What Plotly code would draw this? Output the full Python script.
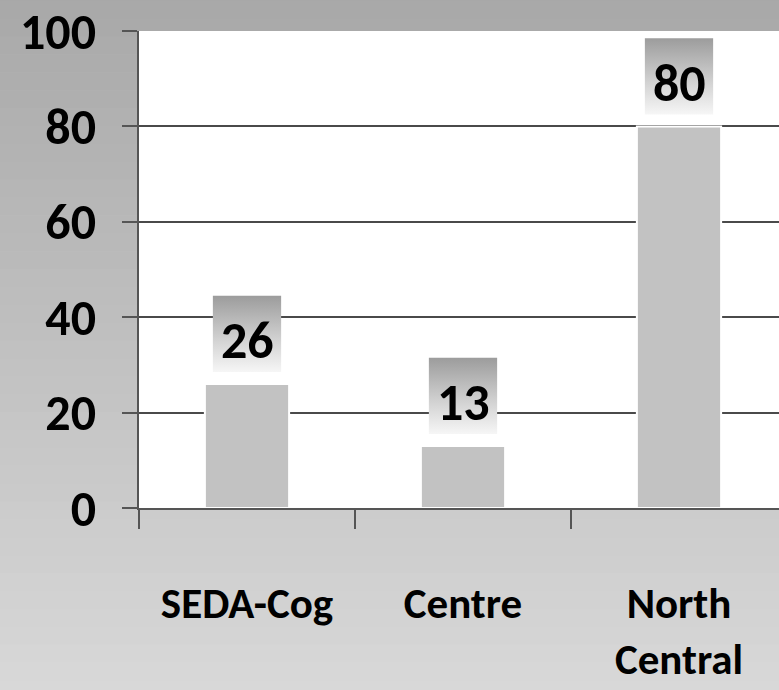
import plotly.graph_objects as go

categories = ["SEDA-Cog", "Centre", "North Central"]
tick_labels = ["SEDA-Cog", "Centre", "North<br>Central"]
values = [26, 13, 80]
y_ticks = [0, 20, 40, 60, 80, 100]

FONT = "Calibri, Carlito, Roboto, sans-serif"

pos = list(range(len(categories)))
boundaries = [p - 0.5 for p in pos]
x_range = [-0.5, -0.5 + 640 / 216]

fig = go.Figure()

# background vertical gradient (decoration) via paper-referenced strips
n = 40
top_c, bot_c = 168, 216
shapes = []
for i in range(n):
    g = int(round(top_c + (bot_c - top_c) * i / (n - 1)))
    shapes.append(dict(type="rect", xref="paper", yref="paper", layer="below",
                       x0=-0.3, x1=1.3, y0=1.1 - (i + 1) * 1.5 / n, y1=1.1 - i * 1.5 / n + 0.001,
                       fillcolor=f"rgb({g},{g},{g})", line=dict(width=0)))
# white plot area
shapes.append(dict(type="rect", xref="x domain", yref="y domain", layer="below",
                   x0=0, x1=1, y0=0, y1=1, fillcolor="white", line=dict(width=0)))

fig.add_trace(go.Bar(
    x=pos, y=values, width=0.39,
    marker=dict(color="#c2c2c2", line=dict(color="white", width=2)),
    hoverinfo="skip", showlegend=False,
))

# gradient label boxes above the bars
box_lo, box_hi, box_half = 2.5, 18.5, 0.158
for i, v in zip(pos, values):
    xs = [i - box_half, i + box_half, i + box_half, i - box_half, i - box_half]
    ys = [v + box_lo, v + box_lo, v + box_hi, v + box_hi, v + box_lo]
    fig.add_trace(go.Scatter(
        x=xs, y=ys, mode="lines", fill="toself", line=dict(width=0),
        fillgradient=dict(type="vertical",
                          colorscale=[[0, "#f6f6f6"], [0.4, "#d4d4d4"], [1, "#9c9c9c"]]),
        hoverinfo="skip", showlegend=False,
    ))

# invisible trace to activate the label axis
fig.add_trace(go.Scatter(x=pos, y=values, xaxis="x2", mode="markers",
                         marker=dict(opacity=0), hoverinfo="skip", showlegend=False))

annotations = []
for i, v in zip(pos, values):
    annotations.append(dict(x=i, y=v + 9.2, text=str(v), showarrow=False,
                            xanchor="center", yanchor="middle",
                            font=dict(family=FONT, size=52, color="black", weight="bold")))

fig.update_layout(
    width=779, height=690,
    margin=dict(l=139, r=0, t=31, b=182),
    paper_bgcolor="#c2c2c2",
    plot_bgcolor="rgba(0,0,0,0)",
    shapes=shapes,
    annotations=annotations,
    font=dict(family=FONT, color="black"),
    xaxis=dict(
        range=x_range, tickvals=boundaries, ticktext=[""] * len(boundaries),
        ticks="outside", ticklen=19, tickwidth=2, tickcolor="#555",
        showline=True, linecolor="#555", linewidth=2, showgrid=False, zeroline=False,
        automargin=False,
    ),
    xaxis2=dict(
        overlaying="x", side="bottom", range=x_range,
        tickvals=pos, ticktext=tick_labels, ticks="", showline=False,
        showgrid=False, zeroline=False, automargin=False,
        tickfont=dict(family=FONT, size=43, color="black", weight="bold"),
        ticklabelstandoff=66,
    ),
    yaxis=dict(
        range=[0, 100], tickvals=y_ticks,
        ticks="outside", ticklen=15, tickwidth=2, tickcolor="#555",
        showline=True, linecolor="#555", linewidth=2,
        showgrid=True, gridcolor="#4a4a4a", gridwidth=2, zeroline=False,
        tickfont=dict(family=FONT, size=50, color="black", weight="bold"),
        ticklabelstandoff=16, automargin=True,
    ),
)

fig.write_html("out.html", config={"displayModeBar": False},
               post_script="document.body.style.margin='0px';")
